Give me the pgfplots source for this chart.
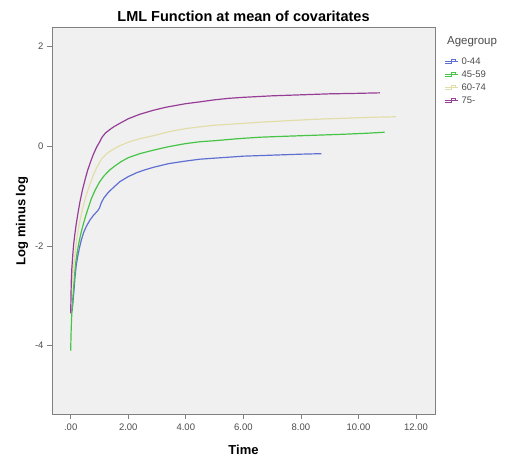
\documentclass[border=0pt]{standalone}
\usepackage{pgfplots}
\pgfplotsset{compat=1.18}
\usepackage{fontspec}
\setmainfont{Liberation Sans}

\definecolor{cBlue}{RGB}{96,112,210}
\definecolor{cGreen}{RGB}{70,196,70}
\definecolor{cYellow}{RGB}{226,222,170}
\definecolor{cPurple}{RGB}{150,62,150}
\definecolor{bgGray}{RGB}{240,240,240}
\definecolor{frameGray}{RGB}{128,128,128}

\begin{document}
\begin{tikzpicture}
    \useasboundingbox (0pt,0pt) rectangle (505pt,463pt);
    \begin{axis}[
        at={(52pt,49pt)}, anchor=south west,
        width=383pt, height=386pt,
        scale only axis,
        xmin=-0.65, xmax=12.66,
        ymin=-5.37, ymax=2.37,
        axis background/.style={fill=bgGray},
        axis line style={frameGray, line width=1pt},
        xtick={0,2,4,6,8,10,12},
        xticklabels={.00,2.00,4.00,6.00,8.00,10.00,12.00},
        ytick={-4,-2,0,2},
        yticklabels={-4,-2,0,2},
        tick align=outside,
        xtick pos=bottom, ytick pos=left,
        major tick length=5pt,
        tick style={frameGray, line width=0.8pt},
        ticklabel style={font=\fontsize{9.5}{10}\selectfont, text=black!70},
        xticklabel style={yshift=-1pt},
        title={\textbf{LML Function at mean of covaritates}},
        title style={font=\fontsize{14.5}{15}\selectfont, yshift=-3pt},
        xlabel={\textbf{Time}},
        ylabel={\textbf{Log minus log}},
        label style={font=\fontsize{13}{14}\selectfont},
        xlabel style={yshift=-8pt},
        legend style={
            at={(1.016,0.933)}, anchor=north west,
            draw=none, fill=none,
            font=\fontsize{9.5}{10}\selectfont,
            row sep=2pt, column sep=2pt,
            nodes={inner sep=1pt, text height=7pt, text depth=2pt, text=black!70},
        },
        legend cell align=left,
        legend image code/.code={
            \draw[#1, line width=1pt] (0pt,-2pt) -- (6.5pt,-2pt) -- (6.5pt,2.5pt)
                -- (11pt,2.5pt) -- (11pt,0.5pt);
            \path (0pt,0pt) -- (13pt,0pt);
        },
        clip mode=individual,
    ]
        % 0-44
        \addplot[cBlue, line width=1.2pt] coordinates {
            (0.05,-3.30) (0.07,-3.18) (0.09,-3.05) (0.12,-2.85) (0.15,-2.62)
            (0.19,-2.40) (0.24,-2.22) (0.30,-2.05) (0.37,-1.88) (0.45,-1.73)
            (0.55,-1.60) (0.67,-1.48) (0.80,-1.38) (0.93,-1.30) (1.00,-1.24)
            (1.06,-1.14) (1.15,-1.04) (1.30,-0.93) (1.50,-0.82) (1.71,-0.71)
            (2.00,-0.61) (2.30,-0.53) (2.60,-0.47) (2.90,-0.42) (3.40,-0.35)
            (3.97,-0.30) (4.50,-0.26) (5.00,-0.24) (6.00,-0.20) (7.00,-0.18)
            (8.00,-0.16) (8.71,-0.15)
        };
        \addlegendentry{0-44}
        % 45-59
        \addplot[cGreen, line width=1.2pt] coordinates {
            (0.00,-4.10) (0.01,-3.80) (0.03,-3.45) (0.06,-3.15) (0.09,-2.93)
            (0.13,-2.62) (0.17,-2.36) (0.22,-2.15) (0.28,-1.95) (0.35,-1.76)
            (0.43,-1.58) (0.52,-1.40) (0.62,-1.22) (0.72,-1.05) (0.85,-0.88)
            (1.00,-0.72) (1.15,-0.60) (1.35,-0.48) (1.55,-0.39) (1.75,-0.31)
            (2.00,-0.23) (2.40,-0.15) (2.87,-0.08) (3.40,-0.01) (3.97,0.05)
            (4.50,0.09) (5.00,0.11) (5.80,0.15) (6.57,0.18) (7.50,0.20)
            (8.50,0.22) (9.50,0.24) (10.30,0.26) (10.91,0.28)
        };
        \addlegendentry{45-59}
        % 60-74
        \addplot[cYellow, line width=1.2pt] coordinates {
            (0.02,-3.00) (0.04,-2.78) (0.07,-2.58) (0.10,-2.42) (0.14,-2.22)
            (0.19,-1.95) (0.24,-1.75) (0.30,-1.56) (0.37,-1.36) (0.45,-1.17)
            (0.55,-0.96) (0.67,-0.76) (0.80,-0.56) (0.93,-0.40) (1.07,-0.26)
            (1.25,-0.15) (1.45,-0.07) (1.71,0.01) (2.00,0.08) (2.40,0.15)
            (2.87,0.21) (3.40,0.29) (3.97,0.35) (4.50,0.39) (5.00,0.42)
            (5.80,0.45) (6.57,0.48) (7.50,0.51) (8.50,0.54) (9.50,0.56)
            (10.50,0.58) (11.30,0.59)
        };
        \addlegendentry{60-74}
        % 75-
        \addplot[cPurple, line width=1.2pt] coordinates {
            (0.00,-3.35) (0.01,-3.00) (0.02,-2.70) (0.04,-2.45) (0.07,-2.20)
            (0.10,-1.98) (0.14,-1.78) (0.19,-1.57) (0.25,-1.35) (0.32,-1.12)
            (0.40,-0.90) (0.49,-0.69) (0.58,-0.50) (0.68,-0.33) (0.79,-0.16)
            (0.90,-0.02) (1.00,0.08) (1.09,0.18) (1.20,0.26) (1.35,0.33)
            (1.50,0.39) (1.71,0.46) (2.00,0.55) (2.40,0.64) (2.87,0.72)
            (3.30,0.78) (3.97,0.85) (4.50,0.89) (5.00,0.93) (5.50,0.96)
            (6.00,0.98) (7.00,1.01) (8.00,1.03) (9.00,1.05) (10.00,1.06)
            (10.74,1.07)
        };
        \addlegendentry{75-}
        \node[anchor=west, font=\fontsize{11.5}{12}\selectfont, text=black!70, inner sep=0pt]
            at (rel axis cs:1.031,0.965) {Agegroup};
    \end{axis}
\end{tikzpicture}
\end{document}
